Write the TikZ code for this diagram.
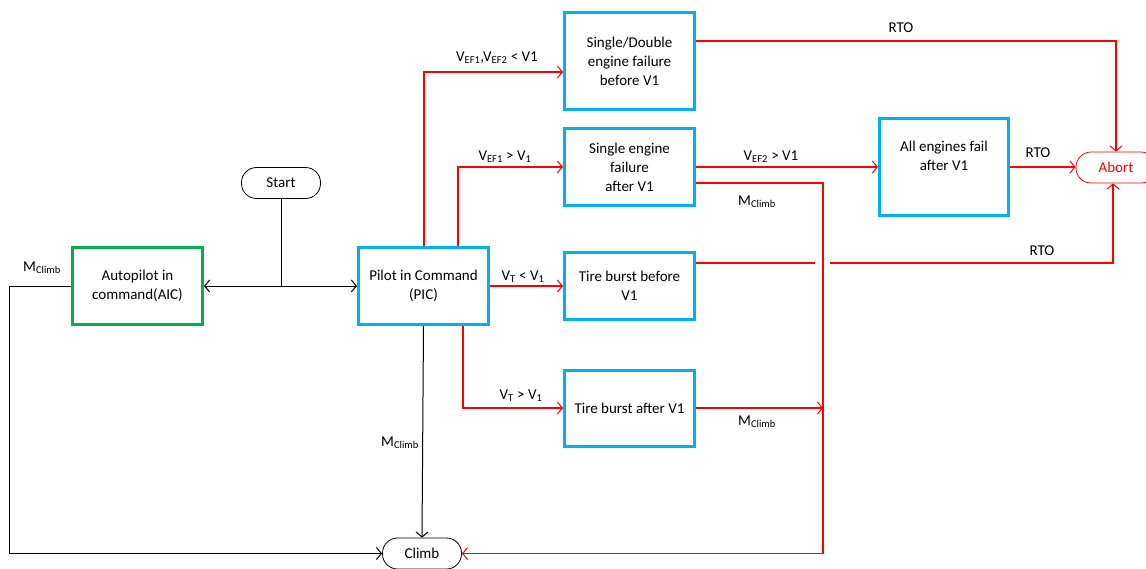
\documentclass[tikz,border=0pt]{standalone}
\usepackage{fontspec}
\setmainfont{Carlito}
\usetikzlibrary{arrows.meta}
\definecolor{cblue}{HTML}{00B0F0}
\definecolor{cgreen}{HTML}{00B050}
\definecolor{cred}{HTML}{FF0000}
\begin{document}
\begin{tikzpicture}[x=1pt,y=-1pt,
  box/.style={draw=cblue, line width=3pt, minimum width=130pt, align=center, inner sep=0pt, font=\fontsize{15}{19}\selectfont},
  term/.style={draw, line width=0.8pt, rounded corners=15pt, minimum width=79pt, minimum height=31pt, inner sep=0pt, font=\fontsize{15}{19}\selectfont},
  lab/.style={inner sep=0pt, font=\fontsize{15}{17}\selectfont},
  tip/.tip={Straight Barb[length=5pt,width=12pt,line width=1pt]},
  con/.style={line width=1pt, -tip},
  bline/.style={line width=1pt},
  rcon/.style={color=cred, line width=1.3pt, -tip},
  rline/.style={color=cred, line width=1.3pt}
]
\useasboundingbox (0,0) rectangle (1146,568);
% nodes
\node[box, draw=cgreen, minimum height=77pt] (aic) at (137.5,286) {Autopilot in\\command(AIC)};
\node[box, minimum height=77pt] (pic) at (423.5,286) {Pilot in Command\\(PIC)};
\node[box, minimum height=97pt] (b1) at (629.5,61) {Single/Double\\engine failure\\before V1};
\node[box, minimum height=77pt] (b2) at (629.5,167) {Single engine\\failure\\after V1};
\node[box, minimum height=67pt] (b3) at (629.5,286) {Tire burst before\\V1};
\node[box, minimum height=76pt] (b4) at (629.5,408) {Tire burst after V1};
\node[box, minimum width=129pt, minimum height=97pt] (b5) at (944,167) {All engines fail\\after V1\\[3pt]~};
\node[term] (start) at (281,183) {Start};
\node[term, draw=cred, text=cred, minimum width=80pt] (abort) at (1116,167.5) {Abort};
\node[term] (climb) at (422,553.5) {Climb};
\coordinate (cx) at (823,553.5);
\coordinate (gap) at (830,263);
% black connectors
\draw[con] (aic.west) -- ++(-62,0) |- (climb.west);
\draw[bline, tip-tip] (aic.east) -- (pic.west);
\draw[bline] (start.south) -- (start.south |- aic.east);
\draw[con] (pic.south) -- (climb.north);
% red connectors
\draw[rcon] ([xshift=0.5pt]pic.north) |- ([yshift=-11pt]b1.west);
\draw[rcon] ([xshift=34.5pt]pic.north) |- (b2.west);
\draw[rcon] (pic.east) -- (b3.west);
\draw[rcon] ([xshift=39.5pt]pic.south) |- (b4.west);
\draw[rcon] ([yshift=20pt]b1.east) -| (abort.north);
\draw[rcon] (b2.east) -- (b5.west);
\draw[rcon] ([yshift=-16pt]b2.east) -| (cx) -- (climb.east);
\draw[rcon] (b5.east) -- (b5.east -| abort.west);
\draw[rline] ([yshift=23pt]b3.east) -- ++(119,0);
\draw[rcon] (gap) -| ([xshift=-3pt]abort.south);
\draw[rcon] (b4.east) -- (cx |- b4.east);
% labels
\node[lab] (l1) at (42,268) {M\textsubscript{Climb}};
\node[lab] (l2) at (400,443) {M\textsubscript{Climb}};
\node[lab] (l3) at (497,58) {V\textsubscript{EF1},V\textsubscript{EF2} < V1};
\node[lab] (l4) at (505,157) {V\textsubscript{EF1} > V\textsubscript{1}};
\node[lab] (l5) at (523,277) {V\textsubscript{T} < V\textsubscript{1}};
\node[lab] (l6) at (521,396) {V\textsubscript{T} > V\textsubscript{1}};
\node[lab] (l7) at (901,28) {RTO};
\node[lab] (l8) at (771,157) {V\textsubscript{EF2} > V1};
\node[lab] (l9) at (757,202) {M\textsubscript{Climb}};
\node[lab] (l10) at (1038,153) {RTO};
\node[lab] (l11) at (1042,251) {RTO};
\node[lab] (l12) at (757,422) {M\textsubscript{Climb}};
\end{tikzpicture}
\end{document}
